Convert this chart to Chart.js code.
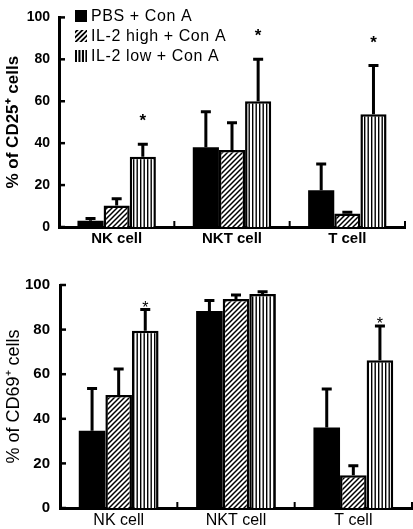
<!DOCTYPE html>
<html>
<head>
<meta charset="utf-8">
<script src="https://cdn.jsdelivr.net/npm/chart.js@4.4.0/dist/chart.umd.min.js"></script>
<style>
  html, body { margin: 0; padding: 0; background: #fff; }
  #wrap { position: relative; width: 413px; height: 529px; }
  .panel { position: absolute; left: 0; width: 413px; }
</style>
</head>
<body>
<div id="wrap">
  <div class="panel" style="top:0;height:252px"><canvas id="cd25"></canvas></div>
  <div class="panel" style="top:252px;height:277px"><canvas id="cd69"></canvas></div>
</div>
<script>
var categories = ['NK cell', 'NKT cell', 'T cell'];
var seriesNames = ['PBS + Con A', 'IL-2 high + Con A', 'IL-2 low + Con A'];

// % of CD25+ cells (top panel)
var cd25Pbs = [3, 38, 17.5];
var cd25High = [10.3, 36.7, 6.5];
var cd25Low = [33.5, 60, 53.8];
var cd25PbsErr = [1, 17, 12.5];
var cd25HighErr = [3.2, 13, 0.5];
var cd25LowErr = [6, 20, 23.2];
var cd25LowStar = [true, true, true];

// % of CD69+ cells (bottom panel)
var cd69Pbs = [34.6, 88.3, 36.1];
var cd69High = [50.7, 93.7, 14.7];
var cd69Low = [79.5, 96, 66.3];
var cd69PbsErr = [19, 4.7, 17.3];
var cd69HighErr = [11.6, 1.8, 4.2];
var cd69LowErr = [9.5, 1, 15.3];
var cd69LowStar = [true, false, true];

Chart.defaults.font.family = "'Liberation Sans', Arial, sans-serif";
Chart.defaults.color = '#000';

function makePattern(size, draw) {
  var c = document.createElement('canvas');
  c.width = size; c.height = size;
  var g = c.getContext('2d');
  draw(g, size);
  return g.createPattern(c, 'repeat');
}

function diagonal(bg, fg, w) {
  return makePattern(5, function(g, s) {
    g.fillStyle = bg; g.fillRect(0, 0, s, s);
    g.strokeStyle = fg; g.lineWidth = w;
    g.beginPath();
    g.moveTo(0, s); g.lineTo(s, 0);
    g.moveTo(-1, 1); g.lineTo(1, -1);
    g.moveTo(s - 1, s + 1); g.lineTo(s + 1, s - 1);
    g.stroke();
  });
}

function vertical(bg, fg) {
  return makePattern(7, function(g, s) {
    g.fillStyle = bg; g.fillRect(0, 0, s, s);
    g.fillStyle = fg;
    g.fillRect(0, 0, 1.4, s);
    g.fillRect(3.5, 0, 1.4, s);
  });
}

var hatchFill = diagonal('#fff', '#000', 1.5);
var stripeFill = vertical('#fff', '#000');
var hatchKey = diagonal('#000', '#fff', 1.6);
var stripeKey = vertical('#000', '#fff');

// error bars, stars and inward axis ticks
var decor = {
  id: 'decor',
  afterDatasetsDraw: function(chart) {
    var ctx = chart.ctx;
    var o = chart.options.plugins.decor;
    var y = chart.scales.y, x = chart.scales.x;
    var area = chart.chartArea;
    ctx.save();
    ctx.strokeStyle = '#000';
    ctx.fillStyle = '#000';
    chart.data.datasets.forEach(function(ds, i) {
      chart.getDatasetMeta(i).data.forEach(function(bar, j) {
        var top = y.getPixelForValue(ds.data[j] + ds.errors[j]);
        ctx.lineWidth = 3;
        ctx.beginPath();
        ctx.moveTo(bar.x, bar.y);
        ctx.lineTo(bar.x, top);
        ctx.moveTo(bar.x - 5, top);
        ctx.lineTo(bar.x + 5, top);
        ctx.stroke();
        if (ds.stars && ds.stars[j]) {
          ctx.font = o.starFont;
          ctx.textAlign = 'center';
          ctx.textBaseline = 'alphabetic';
          ctx.fillText('*', bar.x, top + o.starShift);
        }
      });
    });
    ctx.lineWidth = 2.5;
    y.ticks.forEach(function(t) {
      var py = y.getPixelForValue(t.value);
      ctx.beginPath();
      ctx.moveTo(area.left, py);
      ctx.lineTo(area.left + 6, py);
      ctx.stroke();
    });
    var half = (x.getPixelForValue(1) - x.getPixelForValue(0)) / 2;
    ctx.lineWidth = 2;
    for (var k = 0; k < categories.length; k++) {
      var px = x.getPixelForValue(k) + half;
      ctx.beginPath();
      ctx.moveTo(px, area.bottom);
      ctx.lineTo(px, area.bottom - 6);
      ctx.stroke();
    }
    ctx.restore();
  }
};

var keyPlugin = {
  id: 'key',
  afterDraw: function(chart) {
    var o = chart.options.plugins.key;
    if (!o || !o.show) return;
    var ctx = chart.ctx;
    ctx.save();
    ctx.font = '16px "Liberation Sans", Arial, sans-serif';
    ctx.letterSpacing = '0.6px';
    ctx.textBaseline = 'middle';
    ctx.textAlign = 'left';
    chart.data.datasets.forEach(function(ds, i) {
      var cy = o.top + i * o.gap;
      ctx.fillStyle = ds.keyFill;
      ctx.fillRect(o.left, cy - 6, 12, 12);
      ctx.fillStyle = '#000';
      ctx.fillText(ds.label, o.left + 16, cy + 1);
    });
    ctx.restore();
  }
};

function datasets(pbs, high, low, pbsErr, highErr, lowErr, lowStar) {
  return [
    { label: seriesNames[0], data: pbs, errors: pbsErr, backgroundColor: '#000',
      borderColor: '#000', borderWidth: 0, keyFill: '#000' },
    { label: seriesNames[1], data: high, errors: highErr, backgroundColor: hatchFill,
      borderColor: '#000', borderWidth: 2.5, keyFill: hatchKey },
    { label: seriesNames[2], data: low, errors: lowErr, stars: lowStar, backgroundColor: stripeFill,
      borderColor: '#000', borderWidth: 2.5, keyFill: stripeKey }
  ];
}

function makeChart(id, sets, p) {
  return new Chart(document.getElementById(id), {
    type: 'bar',
    data: { labels: categories, datasets: sets },
    plugins: [decor, keyPlugin],
    options: {
      animation: false,
      responsive: true,
      maintainAspectRatio: false,
      layout: { padding: { top: p.top, right: p.right, bottom: 0, left: 0 } },
      datasets: { bar: { categoryPercentage: 0.68, barPercentage: 1 } },
      plugins: {
        legend: { display: false },
        tooltip: { enabled: false },
        decor: { starFont: p.starFont, starShift: p.starShift },
        key: p.key
      },
      scales: {
        x: {
          grid: { display: false, drawTicks: false },
          border: { color: '#000', width: 3 },
          ticks: { font: p.xFont, padding: 3 },
          afterFit: function(s) { s.height = p.xHeight; }
        },
        y: {
          min: 0, max: 100,
          grid: { display: false, drawTicks: false },
          border: { color: '#000', width: 3 },
          ticks: { stepSize: 20, font: p.yFont, padding: p.yPad },
          title: { display: true, text: p.title, font: p.titleFont, padding: { top: 3, bottom: 0 } },
          afterFit: function(s) { s.width = p.yWidth; }
        }
      }
    }
  });
}

makeChart('cd25', datasets(cd25Pbs, cd25High, cd25Low, cd25PbsErr, cd25HighErr, cd25LowErr, cd25LowStar), {
  top: 6, right: 8, xHeight: 25, yWidth: 59, yPad: 9,
  xFont: { size: 15, weight: 'bold' },
  yFont: { size: 14, weight: 'bold' },
  title: '% of CD25\u207A cells',
  titleFont: { size: 17, weight: 'bold' },
  starFont: 'bold 17px "Liberation Sans", Arial, sans-serif',
  starShift: -18,
  key: { show: true, left: 75, top: 16, gap: 20 }
});

makeChart('cd69', datasets(cd69Pbs, cd69High, cd69Low, cd69PbsErr, cd69HighErr, cd69LowErr, cd69LowStar), {
  top: 33, right: 1, xHeight: 21, yWidth: 60, yPad: 10,
  xFont: { size: 16 },
  yFont: { size: 15, weight: 'bold' },
  title: '% of CD69\u207A cells',
  titleFont: { size: 18 },
  starFont: '16px "Liberation Sans", Arial, sans-serif',
  starShift: 3,
  key: { show: false }
});
</script>
</body>
</html>
